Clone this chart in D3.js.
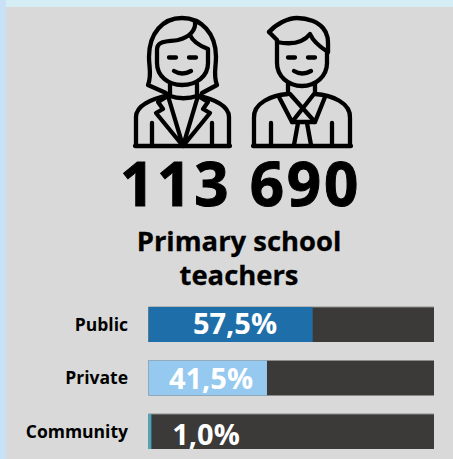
<!DOCTYPE html>
<html><head><meta charset="utf-8">
<script src="https://cdn.jsdelivr.net/npm/d3@7"></script>
<style>html,body{margin:0;padding:0;background:#d5eef5;overflow:hidden}text{font-family:"Open Sans",sans-serif;font-weight:700}</style>
</head><body><svg id="c" width="453" height="459"></svg>
<script>
const categories = ["Public", "Private", "Community"];
const shares = [57.5, 41.5, 1.0];
const shareLabels = ["57,5%", "41,5%", "1,0%"];
const fillColors = ["#1e6fa9", "#95c9ef", "#4ba6bd"];
const totalLabel = "113 690";
const titleLines = ["Primary school", "teachers"];

const woman = [
 "M166,93 L148,85 C152,75 149,68 149,57 C149,33 163,18 182,18 C201,18 216,33 216,57 C216,68 213,75 217,85 L202,93",
 "M195,22 C196,30 190,37 178,40 C168,42 157,40 157,50 L157,63 C157,76 168,85 182,85 C197,85 208,76 208,63 L208,49 C200,46 193,42 190,35",
 "M170,84 L170,96 C178,99 189,99 197,96 L197,84",
 "M169,57.5 L176,57.5 M189,57.5 L196,57.5",
 "M174,71 Q182,76 191,71",
 "M135,146 L230,146 M136,146 L136,117 C136,105 152,99 168,95 M229,146 L229,117 C229,105 213,99 197,95",
 "M158,102 L168,96 L183,146 L198,96 L208,102 M158,102 L163,109 L156,113 L183,146 L210,113 L203,109 L208,102",
 "M152,123 L152,145 M212,123 L212,145"
];
const man = [
 "M269,32 C276,24 288,18 297,18 C308,18 318,22 323,28 C329,35 328,42 328,52",
 "M269,32 L277,40 L277,63 C277,76 288,86 302,86 C316,86 327,76 327,63 L327,50",
 "M277,42 C292,45 303,43 310,34 C313,41 320,47 328,52",
 "M288,84 L288,94 C272,95 253,103 254,118 L254,146 M315,84 L315,94 C332,95 351,103 350,118 L350,146 M253,146 L351,146",
 "M279,97 L292,122 L314,94 M325,97 L315,122 L290,94",
 "M292,122 L315,122 M298,123 L294,145 M307,123 L311,145",
 "M288,57.5 L295,57.5 M308,57.5 L315,57.5",
 "M294,71 Q302,76 311,71",
 "M271,123 L271,145 M332,123 L332,145"
];

const svg = d3.select("#c");
svg.append("rect").attr("width",6).attr("height",459).attr("fill","#c9e1f6");
svg.append("rect").attr("x",6).attr("y",7).attr("width",447).attr("height",452).attr("fill","#d9d9d9");

const defs = svg.append("defs");
defs.append("filter").attr("id","soft").append("feGaussianBlur").attr("stdDeviation",0.4);
const icons = svg.append("g").attr("fill","none").attr("stroke","#000").attr("stroke-width",4.3)
  .attr("stroke-linecap","round").attr("stroke-linejoin","round").attr("filter","url(#soft)");
icons.selectAll("path").data(woman.concat(man)).join("path").attr("d",d=>d);

svg.append("text").attr("x",240.5).attr("y",205.5).attr("text-anchor","middle")
  .attr("font-size",60).attr("letter-spacing",2.8).attr("stroke","#000").attr("stroke-width",1)
  .attr("fill","#000").text(totalLabel);
svg.selectAll("text.t").data(titleLines).join("text").attr("class","t")
  .attr("x",239).attr("y",(d,i)=>251+i*34).attr("text-anchor","middle")
  .attr("font-size",27.4).attr("stroke","#000").attr("stroke-width",0.3).attr("fill","#000").text(d=>d);

const x = d3.scaleLinear().domain([0,100]).range([148.5,434]);
const y = d3.scalePoint().domain(categories).range([324.5,431.5]);
const h = 35;
const rows = svg.selectAll("g.r").data(categories).join("g").attr("class","r");
rows.append("rect").attr("x",x(0)).attr("width",x(100)-x(0)).attr("y",d=>y(d)-h/2).attr("height",h)
  .attr("fill","#3b3a38");
rows.append("line").attr("x1",x(0)).attr("x2",x(100)).attr("y1",d=>y(d)-h/2).attr("y2",d=>y(d)-h/2)
  .attr("stroke","#8c8c8c").attr("stroke-width",1);
rows.append("rect").attr("x",x(0)).attr("width",(d,i)=>x(shares[i])-x(0)).attr("y",d=>y(d)-h/2).attr("height",h)
  .attr("fill",(d,i)=>fillColors[i]);
rows.append("text").attr("x",128).attr("y",d=>y(d)+6).attr("text-anchor","end")
  .attr("font-size",17.5).attr("fill","#000").text(d=>d);
const labelCx = [235, 211, 206];
rows.append("text").attr("x",(d,i)=>labelCx[i]).attr("y",(d,i)=>y(d)+[9.5,11,13][i]).attr("text-anchor","middle")
  .attr("font-size",29).attr("fill","#fff").text((d,i)=>shareLabels[i]);
</script></body></html>
